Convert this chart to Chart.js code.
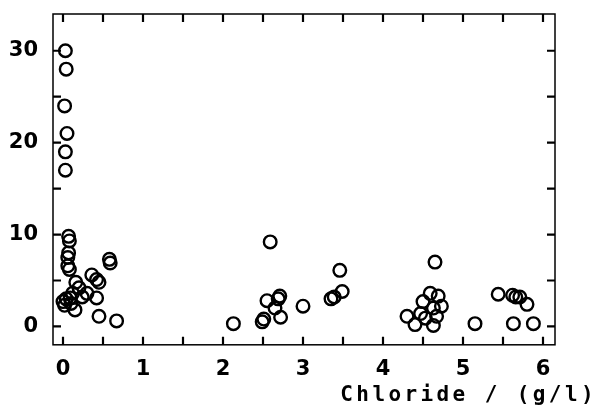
<!DOCTYPE html>
<html>
<head>
<meta charset="utf-8">
<script src="https://cdn.jsdelivr.net/npm/chart.js@4"></script>
<style>
html,body{margin:0;padding:0;background:#fff;}
#wrap{width:603px;height:409px;}
</style>
</head>
<body>
<div id="wrap"><canvas id="c" width="603" height="409"></canvas></div>
<script>
// Chloride (g/l) on x, measured value on y
const chloride = [
  0.03,0.04,0.02,0.05,0.03,0.03,
  0.07,0.08,0.07,0.06,0.06,0.08,0.04,0.00,0.02,0.09,0.12,0.10,0.15,0.16,0.20,0.24,0.30,0.36,0.42,0.45,0.42,0.45,0.67,0.58,0.59,
  2.13,2.49,2.51,2.55,2.59,2.65,2.69,2.71,2.72,3.00,3.35,3.39,3.46,3.49,
  4.30,4.40,4.47,4.50,4.53,4.59,4.63,4.63,4.65,4.67,4.69,4.73,5.15,5.44,5.62,5.66,5.71,5.80,5.63,5.88
];
const values = [
  30,28,24,21,19,17,
  9.8,9.3,8.0,7.5,6.6,6.2,3.0,2.7,2.3,3.1,3.6,2.5,1.8,4.8,4.2,3.2,3.6,5.6,5.1,4.8,3.1,1.1,0.6,7.3,6.9,
  0.3,0.5,0.8,2.8,9.2,2.0,3.0,3.3,1.0,2.2,3.0,3.2,6.1,3.8,
  1.1,0.2,1.4,2.7,0.9,3.6,2.0,0.1,7.0,1.1,3.3,2.2,0.3,3.5,3.4,3.2,3.2,2.4,0.3,0.3
];
const xTickMarks = [0,0.5,1,1.5,2,2.5,3,3.5,4,4.5,5,5.5,6];
const yTickMarks = [0,5,10,15,20,25,30];
const xTickLabels = [0,1,2,3,4,5,6];
const yTickLabels = [0,10,20,30];
const xLabel = 'Chloride / (g/l)';

const points = chloride.map((x,i)=>({x:x,y:values[i]}));
const TITLE_FONT = {family:'"DejaVu Sans Mono", monospace', size:21, weight:'bold'};
const TICK_FONT = {family:'"DejaVu Sans", sans-serif', size:21, weight:'bold'};
const near = (a,b)=> Math.abs(a-b) < 1e-6;
const labelFor = (list)=> (v)=> { const m = list.find(t=>near(t,v)); return m === undefined ? '' : String(m); };

const framePlugin = {
  id:'frame',
  beforeDraw(chart){ chart.ctx.letterSpacing = '3.4px'; },      // title (drawn before datasets)
  afterDatasetsDraw(chart){ chart.ctx.letterSpacing = '0px'; }, // tick labels (z:1, drawn after)
  afterDraw(chart){
    const ctx = chart.ctx, a = chart.chartArea;
    const xs = chart.scales.x, ys = chart.scales.y;
    ctx.save();
    ctx.strokeStyle = '#000';
    ctx.lineWidth = 1.5;
    ctx.strokeRect(a.left, a.top, a.right - a.left, a.bottom - a.top);
    ctx.lineWidth = 2.2;
    const L = 8;
    ctx.beginPath();
    xs.ticks.forEach(t=>{
      const px = xs.getPixelForValue(t.value);
      ctx.moveTo(px, a.bottom); ctx.lineTo(px, a.bottom - L);
      ctx.moveTo(px, a.top); ctx.lineTo(px, a.top + L);
    });
    ys.ticks.forEach(t=>{
      const py = ys.getPixelForValue(t.value);
      ctx.moveTo(a.left, py); ctx.lineTo(a.left + L, py);
      ctx.moveTo(a.right, py); ctx.lineTo(a.right - L, py);
    });
    ctx.stroke();
    ctx.restore();
  }
};

new Chart(document.getElementById('c'), {
  type:'scatter',
  data:{datasets:[{
    data:points,
    pointStyle:'circle',
    pointRadius:6.3,
    pointBorderWidth:2.4,
    borderColor:'#000',
    backgroundColor:'rgba(0,0,0,0)',
    pointBackgroundColor:'rgba(0,0,0,0)'
  }]},
  options:{
    responsive:false,
    animation:false,
    events:[],
    layout:{padding:{left:0,right:6,top:14,bottom:0}},
    plugins:{
      legend:{display:false},
      tooltip:{enabled:false},
      title:{display:true, text:xLabel, position:'bottom', align:'end',
             color:'#000', font:TITLE_FONT, padding:{top:4,bottom:1}}
    },
    scales:{
      x:{type:'linear', min:-0.125, max:6.15,
         grid:{display:false, drawTicks:false}, border:{display:false},
         ticks:{z:1, padding:12, color:'#000', font:TICK_FONT, maxRotation:0, autoSkip:false,
                callback:labelFor(xTickLabels)},
         afterBuildTicks:(s)=>{ s.ticks = xTickMarks.map(v=>({value:v})); },
         afterFit:(s)=>{ s.height = 34; s.paddingLeft = 0; s.paddingRight = 0; }},
      y:{type:'linear', min:-2, max:34,
         grid:{display:false, drawTicks:false}, border:{display:false},
         ticks:{z:1, padding:15, color:'#000', font:TICK_FONT, autoSkip:false,
                callback:labelFor(yTickLabels)},
         afterBuildTicks:(s)=>{ s.ticks = yTickMarks.map(v=>({value:v})); },
         afterFit:(s)=>{ s.width = 53; s.paddingTop = 0; s.paddingBottom = 0; }},
      y2:{type:'linear', position:'right', min:0, max:1,
          grid:{display:false, drawTicks:false}, border:{display:false},
          ticks:{display:false},
          afterFit:(s)=>{ s.width = 42; s.paddingTop = 0; s.paddingBottom = 0; }}
    }
  },
  plugins:[framePlugin]
});
</script>
</body>
</html>
